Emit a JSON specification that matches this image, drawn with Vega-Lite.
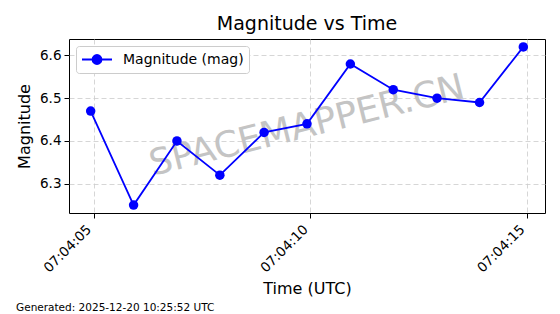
{
  "$schema": "https://vega.github.io/schema/vega-lite/v6.json",
  "background": "white",
  "padding": {"left": 16, "top": 14, "right": 14, "bottom": 4},
  "title": {"text": "Generated: 2025-12-20 10:25:52 UTC", "orient": "bottom", "anchor": "start", "frame": "bounds", "fontSize": 10.5, "fontWeight": "normal", "font": "DejaVu Sans", "color": "black", "offset": 6},
  "vconcat": [
    {
      "title": {"text": "Magnitude vs Time", "fontSize": 19, "fontWeight": "normal", "anchor": "middle", "frame": "group", "offset": 5, "color": "black", "font": "DejaVu Sans"},
      "width": 476,
      "height": 174,
      "layer": [
        {
          "data": {"values": [{"label": "SPACEMAPPER.CN"}]},
          "mark": {"type": "text", "angle": -14, "fontSize": 36, "color": "#c4c4c4", "align": "center", "baseline": "middle", "font": "DejaVu Sans"},
          "encoding": {
            "x": {"datum": {"year": 2025, "month": 12, "date": 20, "hours": 7, "minutes": 4, "seconds": 9, "milliseconds": 920, "utc": true}, "type": "temporal"},
            "y": {"datum": 6.435, "type": "quantitative"},
            "text": {"field": "label"}
          }
        },
        {
          "data": {"values": [
            {"time": "2025-12-20T07:04:04.930Z", "mag": 6.47, "series": "Magnitude (mag)"},
            {"time": "2025-12-20T07:04:05.920Z", "mag": 6.25, "series": "Magnitude (mag)"},
            {"time": "2025-12-20T07:04:06.920Z", "mag": 6.40, "series": "Magnitude (mag)"},
            {"time": "2025-12-20T07:04:07.910Z", "mag": 6.32, "series": "Magnitude (mag)"},
            {"time": "2025-12-20T07:04:08.930Z", "mag": 6.42, "series": "Magnitude (mag)"},
            {"time": "2025-12-20T07:04:09.920Z", "mag": 6.44, "series": "Magnitude (mag)"},
            {"time": "2025-12-20T07:04:10.920Z", "mag": 6.58, "series": "Magnitude (mag)"},
            {"time": "2025-12-20T07:04:11.910Z", "mag": 6.52, "series": "Magnitude (mag)"},
            {"time": "2025-12-20T07:04:12.920Z", "mag": 6.50, "series": "Magnitude (mag)"},
            {"time": "2025-12-20T07:04:13.900Z", "mag": 6.49, "series": "Magnitude (mag)"},
            {"time": "2025-12-20T07:04:14.910Z", "mag": 6.62, "series": "Magnitude (mag)"}
          ]},
          "mark": {"type": "line", "strokeWidth": 1.8, "point": {"filled": true, "size": 90, "opacity": 1}},
          "encoding": {
            "x": {
              "field": "time", "type": "temporal",
              "scale": {"type": "utc", "nice": false, "domain": [
                {"year": 2025, "month": 12, "date": 20, "hours": 7, "minutes": 4, "seconds": 4, "milliseconds": 430, "utc": true},
                {"year": 2025, "month": 12, "date": 20, "hours": 7, "minutes": 4, "seconds": 15, "milliseconds": 410, "utc": true}
              ]},
              "axis": {
                "title": "Time (UTC)",
                "format": "%H:%M:%S",
                "values": [
                  {"year": 2025, "month": 12, "date": 20, "hours": 7, "minutes": 4, "seconds": 5, "utc": true},
                  {"year": 2025, "month": 12, "date": 20, "hours": 7, "minutes": 4, "seconds": 10, "utc": true},
                  {"year": 2025, "month": 12, "date": 20, "hours": 7, "minutes": 4, "seconds": 15, "utc": true}
                ],
                "labelAngle": -45, "labelAlign": "right", "labelBaseline": "bottom",
                "labelPadding": 14, "titlePadding": 6
              }
            },
            "y": {
              "field": "mag", "type": "quantitative",
              "scale": {"domain": [6.2315, 6.6385], "nice": false, "zero": false},
              "axis": {"title": "Magnitude", "values": [6.3, 6.4, 6.5, 6.6], "format": ".1f", "labelPadding": 3, "titlePadding": 7}
            },
            "color": {
              "field": "series", "type": "nominal",
              "scale": {"range": ["#0000ff"]},
              "legend": {
                "title": null,
                "orient": "none",
                "legendX": 7,
                "legendY": 7,
                "padding": 5,
                "symbolType": "M-1,0L3,0M0.4,0A0.6,0.6,0,1,0,1.6,0A0.6,0.6,0,1,0,0.4,0Z",
                "symbolSize": 225,
                "symbolStrokeWidth": 1.8,
                "labelOffset": 25,
                "labelFontSize": 14,
                "labelColor": "black",
                "labelFont": "DejaVu Sans",
                "strokeColor": "#cccccc",
                "fillColor": "white",
                "cornerRadius": 3,
                "encode": {"symbols": {"update": {"fill": {"value": "#0000ff"}, "stroke": {"value": "#0000ff"}, "strokeWidth": {"value": 1.8}, "opacity": {"value": 1}}}}
              }
            }
          }
        }
      ]
    }
  ],
  "config": {
    "font": "DejaVu Sans",
    "view": {"stroke": "black", "strokeWidth": 1},
    "axis": {
      "domain": false,
      "grid": true,
      "gridColor": "#cccccc",
      "gridDash": [5, 3],
      "gridWidth": 0.8,
      "tickColor": "black",
      "tickSize": 5,
      "labelColor": "black",
      "labelFontSize": 13.5,
      "labelFont": "DejaVu Sans",
      "titleFontSize": 16,
      "titleFontWeight": "normal",
      "titleColor": "black",
      "titleFont": "DejaVu Sans"
    }
  }
}
